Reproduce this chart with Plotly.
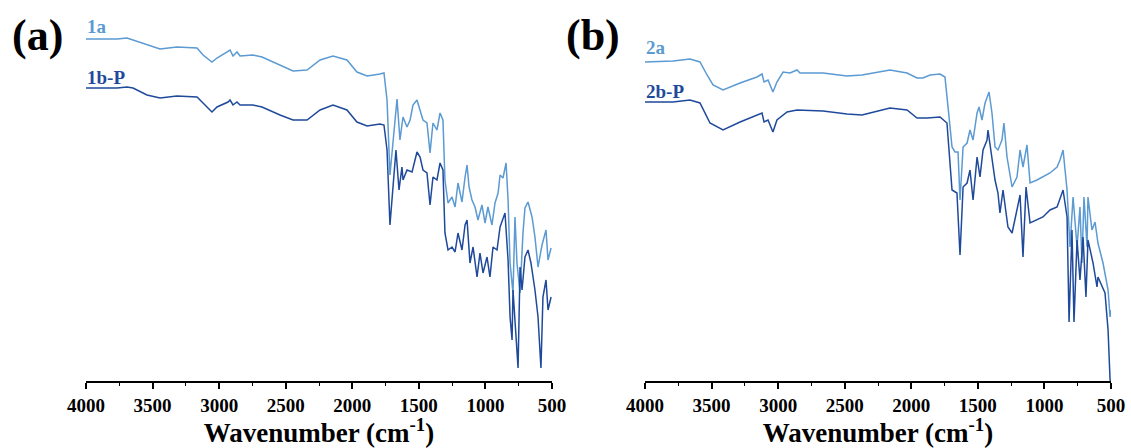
import plotly.graph_objects as go

# ---------------- data (wavenumber cm-1, transmittance a.u.) ----------------
wn_1a = [4000, 3767, 3692, 3647, 3542, 3444, 3317, 3166, 3121, 3054, 3016, 2933, 2918, 2896, 2866, 2843,
         2746, 2678, 2543, 2445, 2340, 2242, 2145, 2040, 1965, 1889, 1792, 1762, 1739, 1717, 1664, 1642,
         1619, 1589, 1566, 1544, 1514, 1491, 1469, 1439, 1416, 1394, 1364, 1341, 1319, 1304, 1281, 1251,
         1228, 1206, 1176, 1153, 1138, 1123, 1101, 1078, 1056, 1026, 1003, 981, 951, 928, 905, 890, 868,
         845, 830, 815, 793, 778, 763, 740, 718, 703, 680, 650, 628, 605, 575, 545, 530, 507]
t_1a = [342, 342, 343, 341, 336, 332, 334, 333, 326, 319, 323, 330, 331, 325, 329, 325,
        326, 324, 316, 310, 311, 321, 325, 321, 309, 305, 307, 308, 281, 206, 282, 241,
        264, 254, 261, 276, 281, 271, 261, 258, 228, 258, 251, 268, 261, 201, 178, 184,
        174, 198, 179, 204, 216, 194, 181, 174, 161, 176, 158, 174, 156, 178, 188, 206, 203,
        218, 181, 118, 88, 164, 118, 88, 148, 173, 179, 164, 144, 114, 136, 151, 121, 133]

wn_1b = [4000, 3767, 3692, 3647, 3542, 3444, 3317, 3166, 3121, 3054, 3016, 2933, 2918, 2896, 2866, 2843,
         2746, 2678, 2543, 2445, 2340, 2242, 2145, 2040, 1965, 1889, 1792, 1762, 1739, 1717, 1672, 1649,
         1627, 1619, 1589, 1551, 1514, 1491, 1469, 1439, 1416, 1394, 1364, 1341, 1319, 1304, 1281, 1251,
         1228, 1206, 1176, 1153, 1138, 1116, 1093, 1063, 1041, 1018, 988, 966, 943, 913, 890, 853, 830,
         815, 800, 793, 770, 755, 740, 725, 703, 680, 658, 628, 605, 583, 568, 545, 530, 507]
t_1b = [293, 293, 294, 293, 286, 283, 285, 284, 278, 269, 274, 279, 281, 276, 279, 276,
        276, 274, 266, 261, 261, 271, 276, 271, 259, 255, 257, 256, 231, 156, 231, 191,
        214, 201, 211, 209, 229, 224, 211, 208, 176, 204, 201, 218, 211, 148, 131, 134,
        129, 148, 131, 156, 161, 118, 134, 104, 128, 108, 124, 104, 134, 131, 154, 168, 121,
        64, 41, 91, 44, 13, 114, 91, 124, 131, 118, 91, 64, 13, 84, 101, 71, 84]

wn_2a = [4000, 3790, 3662, 3587, 3534, 3489, 3414, 3286, 3159, 3121, 3106, 3076, 3039, 3009, 2963, 2911,
         2858, 2836, 2663, 2483, 2370, 2288, 2160, 2032, 1957, 1912, 1859, 1784, 1747, 1724, 1694, 1672,
         1649, 1634, 1611, 1581, 1559, 1536, 1506, 1491, 1469, 1446, 1431, 1416, 1394, 1371, 1349, 1319,
         1304, 1281, 1243, 1206, 1183, 1161, 1131, 1108, 1056, 1011, 958, 905, 883, 860, 830, 808, 785,
         755, 733, 718, 703, 680, 673, 643, 620, 598, 560, 522, 507, 500]
t_2a = [319, 320, 322, 319, 306, 296, 291, 298, 304, 307, 299, 301, 289, 299, 309, 308,
        311, 308, 308, 305, 306, 308, 311, 308, 303, 303, 306, 307, 304, 274, 234, 229,
        229, 181, 234, 238, 251, 241, 268, 274, 261, 278, 284, 289, 268, 234, 231, 241,
        258, 224, 194, 204, 231, 214, 236, 198, 201, 204, 208, 214, 221, 231, 191, 134, 184,
        134, 174, 118, 184, 134, 184, 151, 159, 138, 118, 91, 64, 71]

wn_2b = [4000, 3790, 3662, 3587, 3512, 3414, 3286, 3159, 3121, 3106, 3076, 3039, 3009, 2933, 2858, 2663,
         2483, 2370, 2288, 2160, 2032, 1957, 1882, 1784, 1732, 1694, 1657, 1634, 1611, 1581, 1559, 1536,
         1506, 1484, 1461, 1431, 1424, 1394, 1371, 1349, 1334, 1311, 1274, 1243, 1213, 1183, 1161, 1138,
         1108, 1056, 1011, 958, 905, 860, 830, 815, 793, 778, 755, 733, 710, 688, 673, 635, 605, 598,
         545, 522, 507, 500]
t_2b = [279, 279, 281, 278, 258, 251, 259, 266, 268, 259, 261, 249, 261, 269, 271, 270,
        267, 266, 269, 273, 271, 263, 263, 264, 258, 191, 188, 126, 194, 198, 211, 181,
        224, 204, 231, 241, 251, 221, 201, 188, 168, 191, 154, 148, 168, 186, 124, 194,
        158, 161, 164, 171, 174, 191, 164, 59, 151, 59, 141, 101, 144, 84, 141, 118, 94, 104,
        88, 51, 1, 0]

tick_vals = [4000, 3500, 3000, 2500, 2000, 1500, 1000, 500]
tick_text = ["4000", "3500", "3000", "2500", "2000", "1500", "1000", "500"]
panel_labels = ["(a)", "(b)"]
series_labels = ["1a", "1b-P", "2a", "2b-P"]
x_title = "Wavenumber (cm<sup>-1</sup>)"

LIGHT = "#5b9ad2"
DARK = "#1f4a9b"
SERIF = "Liberation Serif"
W, H = 1131, 448

fig = go.Figure()
fig.add_trace(go.Scatter(x=wn_1a, y=t_1a, mode="lines", line=dict(color=LIGHT, width=1.5),
                         xaxis="x", yaxis="y", showlegend=False))
fig.add_trace(go.Scatter(x=wn_1b, y=t_1b, mode="lines", line=dict(color=DARK, width=1.5),
                         xaxis="x", yaxis="y", showlegend=False))
fig.add_trace(go.Scatter(x=wn_2a, y=t_2a, mode="lines", line=dict(color=LIGHT, width=1.5),
                         xaxis="x2", yaxis="y2", showlegend=False))
fig.add_trace(go.Scatter(x=wn_2b, y=t_2b, mode="lines", line=dict(color=DARK, width=1.5),
                         xaxis="x2", yaxis="y2", showlegend=False))

def xaxis(domain, anchor):
    return dict(domain=domain, anchor=anchor, range=[4000, 500], autorange=False,
                showline=True, linecolor="black", linewidth=1.5, mirror=False,
                ticks="outside", ticklen=6, tickwidth=1.5, tickcolor="black",
                tickvals=tick_vals, ticktext=tick_text, showgrid=False, zeroline=False,
                tickfont=dict(family=SERIF, size=19, color="black", weight=700),
                minor=dict(dtick=250, tick0=500, ticks="outside", ticklen=3, tickwidth=1.2,
                           tickcolor="black", showgrid=False),
                title=dict(text=x_title, font=dict(family=SERIF, size=27, color="black", weight=700),
                           standoff=2),
                automargin=False, fixedrange=True)

def yaxis(anchor):
    return dict(domain=[67 / H, 428 / H], anchor=anchor, range=[0, 361], autorange=False,
                visible=False, fixedrange=True)

fig.update_layout(
    width=W, height=H, margin=dict(l=0, r=0, t=0, b=0),
    paper_bgcolor="white", plot_bgcolor="white",
    font=dict(family=SERIF),
    xaxis=xaxis([86 / W, 552 / W], "y"),
    yaxis=yaxis("x"),
    xaxis2=xaxis([645 / W, 1111 / W], "y2"),
    yaxis2=yaxis("x2"),
)

ann = [
    (10 / W, 35, panel_labels[0], 44, "black"),
    (564 / W, 35, panel_labels[1], 44, "black"),
    (85 / W, 27, series_labels[0], 19, LIGHT),
    (85 / W, 77, series_labels[1], 19, DARK),
    (644 / W, 47, series_labels[2], 19, LIGHT),
    (644 / W, 91, series_labels[3], 19, DARK),
]
for x, ypix, text, size, color in ann:
    fig.add_annotation(x=x, y=1 - ypix / H, xref="paper", yref="paper", text=text, showarrow=False,
                       xanchor="left", yanchor="middle",
                       font=dict(family=SERIF, size=size, color=color, weight=700))

fig.write_html("out.html")
